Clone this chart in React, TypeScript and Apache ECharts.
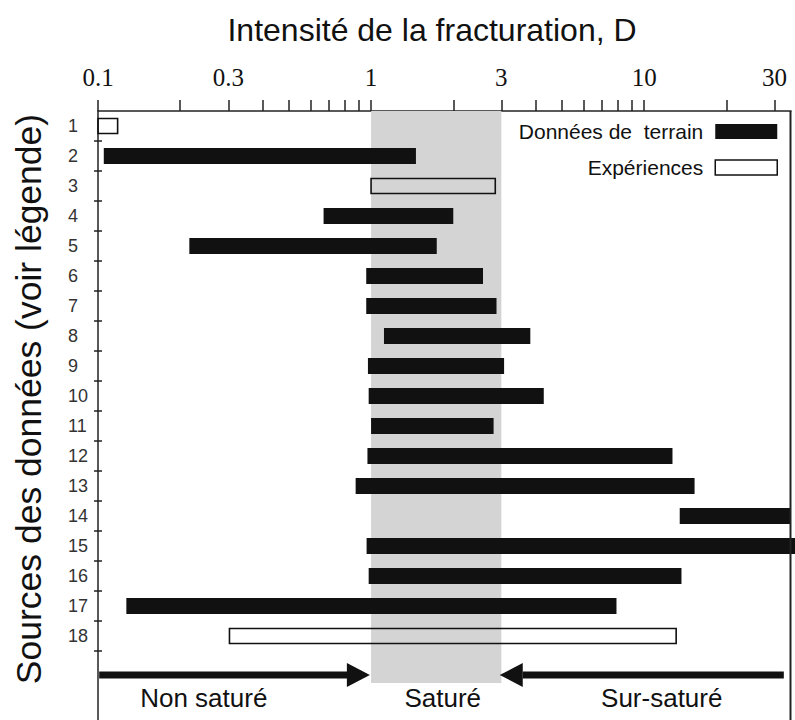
import React, { useEffect, useRef } from 'react';
import * as echarts from 'echarts';

// ---- Data ----
const sourceIds = [1, 2, 3, 4, 5, 6, 7, 8, 9, 10, 11, 12, 13, 14, 15, 16, 17, 18];

// Field data (Données de terrain) : row, start, end of D range
const fieldRows = [2, 4, 5, 6, 7, 8, 9, 10, 11, 12, 13, 14, 15, 16, 17];
const fieldStart = [0.105, 0.67, 0.216, 0.96, 0.96, 1.115, 0.974, 0.98, 1.0, 0.97, 0.878, 13.5, 0.963, 0.98, 0.127];
const fieldEnd = [1.46, 2.0, 1.74, 2.57, 2.88, 3.83, 3.07, 4.29, 2.81, 12.7, 15.3, 34.5, 40, 13.7, 7.92];

// Experiments (Expériences)
const expRows = [1, 3, 18];
const expStart = [0.1, 1.0, 0.303];
const expEnd = [0.118, 2.85, 13.1];

// Axis ticks / labels
const xTickValues = [0.1, 0.2, 0.3, 0.4, 0.5, 0.6, 0.7, 0.8, 0.9, 1, 2, 3, 4, 5, 6, 7, 8, 9, 10, 20, 30];
const xLabelValues = [0.1, 0.3, 1, 3, 10, 30];
const xMin = 0.1;
const xMax = 34.5;
const yMin = 0.5;
const yMax = 20.8;

// Saturated zone
const saturatedFrom = 1;
const saturatedTo = 3;
const shadeRowTop = 0.5;
const shadeRowBottom = 19.57;

// Regime arrows: from, to, row
const arrowFrom = [0.101, 32.2];
const arrowTo = [0.99, 2.96];
const arrowRow = 19.3;

// Regime labels
const regimeNames = ['Non saturé', 'Saturé', 'Sur-saturé'];
const regimeX = [0.244, 1.83, 11.6];
const regimeRow = 20.07;

const FONT = '"Liberation Sans", Arial, Helvetica, sans-serif';
const SERIF = '"Liberation Serif", "Times New Roman", serif';
const INK = '#111';
const LINE = '#222';

export default function App() {
  const ref = useRef<HTMLDivElement>(null);

  useEffect(() => {
    if (!ref.current) return;
    const chart = echarts.init(ref.current, null, { renderer: 'svg' });

    const fieldData = fieldRows.map((r, i) => [fieldStart[i], fieldEnd[i], r]);
    const expData = expRows.map((r, i) => [expStart[i], expEnd[i], r]);
    const arrowData = arrowFrom.map((f, i) => [f, arrowTo[i], arrowRow]);
    const regimeData = regimeNames.map((n, i) => [regimeX[i], regimeRow, n]);

    const barRender = (h: number, hollow: boolean) => (params: any, api: any) => {
      const s = api.coord([api.value(0), api.value(2)]);
      const e = api.coord([api.value(1), api.value(2)]);
      const cs = params.coordSys;
      const x0 = Math.max(s[0], cs.x);
      const x1 = Math.min(e[0], cs.x + cs.width + 4);
      return {
        type: 'rect',
        shape: { x: x0, y: s[1] - h / 2, width: x1 - x0, height: h },
        style: hollow
          ? { fill: 'rgba(255,255,255,0)', stroke: INK, lineWidth: 1.6 }
          : { fill: INK },
      };
    };

    const tickVals = sourceIds.map((v) => v + 0.5);

    const option: any = {
      animation: false,
      backgroundColor: '#fff',
      title: {
        text: 'Intensité de la fracturation, D',
        left: 427,
        textAlign: 'center',
        top: 9,
        textStyle: { fontFamily: FONT, fontSize: 32, fontWeight: 'normal', color: INK },
      },
      legend: {
        orient: 'vertical',
        right: 12,
        top: 116,
        align: 'right',
        itemWidth: 62,
        itemHeight: 15,
        itemGap: 15,
        selectedMode: false,
        textStyle: { fontFamily: FONT, fontSize: 21, color: INK, lineHeight: 20, padding: [0, 7, 0, 0] },
        data: [
          { name: 'Données de  terrain', icon: 'rect', itemStyle: { color: INK } },
          {
            name: 'Expériences',
            icon: 'rect',
            itemStyle: { color: '#fff', borderColor: INK, borderWidth: 1.5 },
          },
        ],
      },
      grid: {
        left: 98,
        right: 4,
        top: 111,
        bottom: 0,
        show: false,
      },
      xAxis: {
        type: 'log',
        position: 'top',
        min: xMin,
        max: xMax,
        axisLine: { show: true, lineStyle: { color: LINE, width: 1.5 } },
        axisTick: {
          show: true,
          inside: false,
          length: 11,
          customValues: xTickValues,
          lineStyle: { color: LINE, width: 1.5 },
        },
        axisLabel: {
          show: true,
          customValues: xLabelValues,
          margin: 21,
          fontFamily: SERIF,
          fontSize: 25,
          color: INK,
          formatter: (v: number) => String(+v.toPrecision(3)),
        },
        splitLine: { show: false },
        minorTick: { show: false },
      },
      yAxis: [
        {
          type: 'value',
          inverse: true,
          min: yMin,
          max: yMax,
          axisLine: { show: true, lineStyle: { color: LINE, width: 1.5 } },
          axisTick: {
            show: true,
            inside: false,
            length: 4,
            customValues: tickVals,
            lineStyle: { color: LINE, width: 1.5 },
          },
          axisLabel: {
            show: true,
            customValues: sourceIds,
            align: 'left',
            margin: 30,
            fontFamily: FONT,
            fontSize: 18,
            color: '#333',
            formatter: (v: number) => String(Math.round(v)),
          },
          splitLine: { show: false },
        },
        {
          type: 'value',
          position: 'left',
          inverse: true,
          min: yMin,
          max: yMax,
          axisLine: { show: false },
          axisTick: {
            show: true,
            inside: true,
            length: 4,
            customValues: tickVals,
            lineStyle: { color: LINE, width: 1.5 },
          },
          axisLabel: { show: false },
          splitLine: { show: false },
        },
      ],
      graphic: [
        {
          type: 'text',
          x: 29,
          y: 399,
          rotation: Math.PI / 2,
          style: {
            text: 'Sources des données (voir légende)',
            fontFamily: FONT,
            fontSize: 35.5,
            fill: INK,
            textAlign: 'center',
            textVerticalAlign: 'middle',
            align: 'center',
            verticalAlign: 'middle',
          },
        },
      ],
      series: [
        {
          name: 'Données de  terrain',
          type: 'custom',
          silent: true,
          encode: { x: [0, 1], y: 2 },
          data: fieldData,
          renderItem: barRender(16, false),
          markArea: {
            silent: true,
            itemStyle: { color: '#d4d4d4' },
            data: [[{ coord: [saturatedFrom, shadeRowTop] }, { coord: [saturatedTo, shadeRowBottom] }]],
          },
          z: 3,
        },
        {
          name: 'Expériences',
          type: 'custom',
          silent: true,
          encode: { x: [0, 1], y: 2 },
          data: expData,
          renderItem: barRender(15, true),
          z: 3,
        },
        {
          name: 'frame',
          type: 'custom',
          silent: true,
          encode: { x: 0, y: 1 },
          data: [[xMax, yMin]],
          z: 6,
          renderItem: (params: any, api: any) => {
            const cs = params.coordSys;
            const p = api.coord([api.value(0), api.value(1)]);
            const x = Math.min(p[0], cs.x + cs.width) - 1.5;
            return {
              type: 'rect',
              shape: { x: x, y: cs.y, width: 2, height: cs.height + 2 },
              style: { fill: LINE },
            };
          },
        },
        {
          name: 'arrows',
          type: 'custom',
          silent: true,
          encode: { x: [0, 1], y: 2 },
          data: arrowData,
          z: 4,
          renderItem: (params: any, api: any) => {
            const from = api.coord([api.value(0), api.value(2)]);
            const to = api.coord([api.value(1), api.value(2)]);
            const dir = Math.sign(to[0] - from[0]);
            const headLen = 23;
            const headHalf = 12;
            const shaft = 7;
            const baseX = to[0] - dir * headLen;
            return {
              type: 'group',
              children: [
                {
                  type: 'rect',
                  shape: {
                    x: Math.min(from[0], baseX),
                    y: to[1] - shaft / 2,
                    width: Math.abs(baseX - from[0]) + 1,
                    height: shaft,
                  },
                  style: { fill: INK },
                },
                {
                  type: 'polygon',
                  shape: {
                    points: [
                      [to[0], to[1]],
                      [baseX, to[1] - headHalf],
                      [baseX, to[1] + headHalf],
                    ],
                  },
                  style: { fill: INK },
                },
              ],
            };
          },
        },
        {
          name: 'regimes',
          type: 'custom',
          silent: true,
          encode: { x: 0, y: 1 },
          data: regimeData,
          z: 4,
          renderItem: (params: any, api: any) => {
            const p = api.coord([api.value(0), api.value(1)]);
            return {
              type: 'text',
              x: p[0],
              y: p[1],
              style: {
                text: regimeNames[params.dataIndex],
                fontFamily: FONT,
                fontSize: 26,
                fill: INK,
                align: 'center',
                verticalAlign: 'middle',
                textAlign: 'center',
                textVerticalAlign: 'middle',
              },
            };
          },
        },
      ],
    };

    chart.setOption(option);
    return () => chart.dispose();
  }, []);

  return (
    <div
      ref={ref}
      style={{ position: 'fixed', left: 0, top: 0, width: 795, height: 720, background: '#fff' }}
    />
  );
}
